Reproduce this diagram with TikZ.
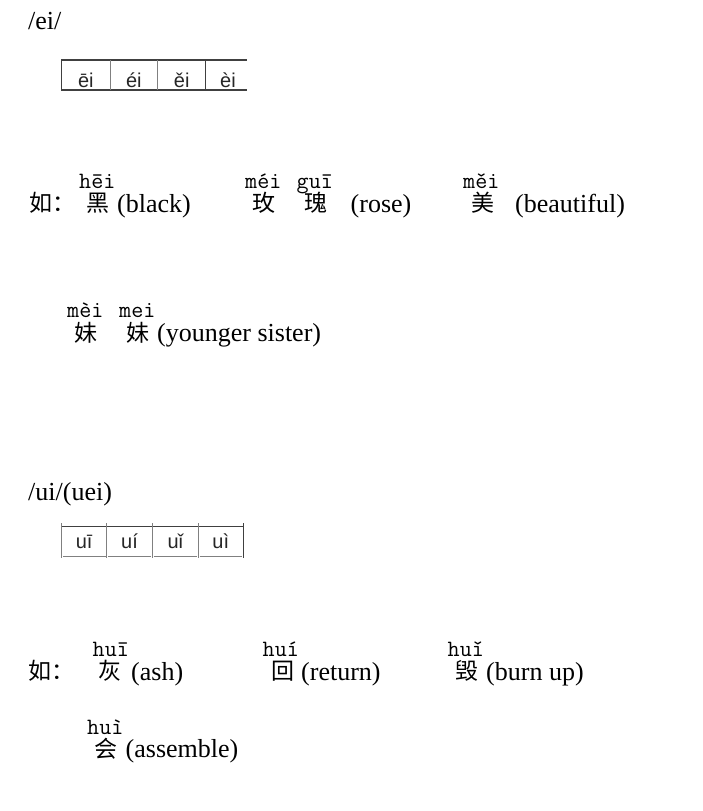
\documentclass[tikz,border=0pt]{standalone}
\usepackage{fontspec}
\setmainfont{Liberation Serif}
\newfontfamily\cjk{Noto Sans CJK SC}
\newfontfamily\pyfont{Latin Modern Mono}
\newfontfamily\tbfont{Liberation Sans}
\begin{document}
\begin{tikzpicture}[x=1pt,y=-1pt,
  en/.style={anchor=base west,inner sep=0pt,font=\fontsize{26}{30}\selectfont},
  zh/.style={anchor=base west,inner sep=0pt,font=\cjk\fontsize{23}{28}\selectfont},
  py/.style={anchor=base west,inner sep=0pt,font=\pyfont\fontsize{23.4}{28}\selectfont},
  tb/.style={anchor=base,inner sep=0pt,font=\tbfont\fontsize{20}{24}\selectfont,text=black!85},
  darkline/.style={draw=black!75,line width=1.3pt},
  greyline/.style={draw=black!50,line width=1pt}]
\useasboundingbox[fill=white] (0,0) rectangle (703,811);

% ---------- /ei/ ----------
\node[en] (h1) at (28,29) {/ei/};

\draw[darkline] (61.7,59) -- (61.7,91);
\draw[darkline] (61.7,60) -- (246.7,60);
\draw[darkline] (61.7,90) -- (246.7,90);
\draw[greyline] (110,60) -- (110,90);
\draw[greyline] (157.7,60) -- (157.7,90);
\draw[darkline] (205.7,60) -- (205.7,90);
\node[tb] (t11) at (85.9,87) {ēi};
\node[tb] (t12) at (133.9,87) {éi};
\node[tb] (t13) at (181.7,87) {ěi};
\node[tb] (t14) at (228,87) {èi};

% row 1
\node[zh] (ru1) at (29.5,211.5) {如：};
\node[py] (p1) at (79,188) {hēi};
\node[zh] (c1) at (86.5,211.5) {黑};
\node[en] (e1) at (117,212.5) {(black)};
\node[py] (p2) at (245,188) {méi};
\node[py] (p3) at (296.5,188) {guī};
\node[zh] (c2) at (252.5,211.5) {玫};
\node[zh] (c3) at (304.5,211.5) {瑰};
\node[en] (e2) at (350.5,212.5) {(rose)};
\node[py] (p4) at (463,188) {měi};
\node[zh] (c4) at (471,211.5) {美};
\node[en] (e3) at (515,212.5) {(beautiful)};

% row 2
\node[py] (p5) at (67,317.5) {mèi};
\node[py] (p6) at (119,317.5) {mei};
\node[zh] (c5) at (74.5,341.5) {妹};
\node[zh] (c6) at (126,341.5) {妹};
\node[en] (e4) at (157,341) {(younger sister)};

% ---------- /ui/ ----------
\node[en] (h2) at (28,500) {/ui/(uei)};

\draw[darkline] (61.7,526.7) -- (243.3,526.7);
\draw[greyline] (61.7,523.3) -- (61.7,558.3);
\draw[greyline] (106.7,523.3) -- (106.7,558.3);
\draw[greyline] (152.3,523.3) -- (152.3,558.3);
\draw[greyline] (198.3,523.3) -- (198.3,558.3);
\draw[darkline] (243.3,523.3) -- (243.3,558.3);
\draw[greyline] (63,556.7) -- (105.5,556.7);
\draw[greyline] (108,556.7) -- (151,556.7);
\draw[greyline] (153.6,556.7) -- (197,556.7);
\draw[greyline] (199.6,556.7) -- (242,556.7);
\node[tb] (t21) at (84.2,548.3) {uī};
\node[tb] (t22) at (129.5,548.3) {uí};
\node[tb] (t23) at (175.3,548.3) {uǐ};
\node[tb] (t24) at (220.8,548.3) {uì};

% row 3
\node[zh] (ru2) at (28.5,679.5) {如：};
\node[py] (p7) at (92.5,656.7) {huī};
\node[zh] (c7) at (98.5,679.5) {灰};
\node[en] (e5) at (131,680.5) {(ash)};
\node[py] (p8) at (262.5,656.7) {huí};
\node[zh] (c8) at (271.5,679.5) {回};
\node[en] (e6) at (301,680.5) {(return)};
\node[py] (p9) at (447.5,656.7) {huǐ};
\node[zh] (c9) at (455,679.5) {毁};
\node[en] (e7) at (486,680.5) {(burn up)};

% row 4
\node[py] (p10) at (87,734) {huì};
\node[zh] (c10) at (94.5,757) {会};
\node[en] (e8) at (125.5,757.7) {(assemble)};
\end{tikzpicture}
\end{document}
